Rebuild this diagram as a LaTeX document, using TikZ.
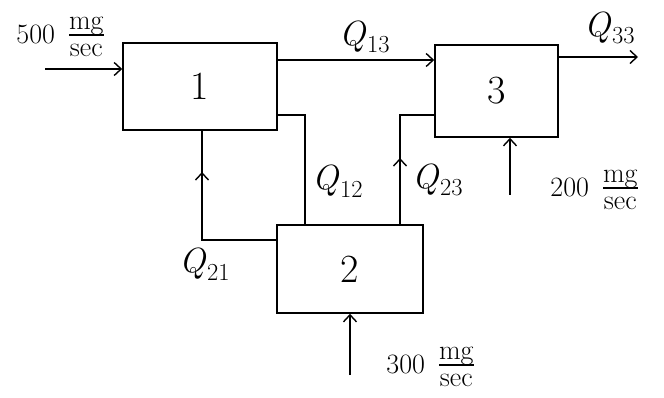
\documentclass[tikz,border=0pt]{standalone}
\usepackage{fontspec}
\usetikzlibrary{arrows.meta}
\setlength{\arrayrulewidth}{1.4pt}
\newcommand{\myfrac}[2]{\begin{tabular}{@{}c@{}}#1\\[-4pt]\hline\rule{0pt}{20pt}#2\end{tabular}}
\newcommand{\qlab}[1]{\textit{Q}\textsubscript{#1}}
\newcommand{\flowtxt}[1]{\fontsize{28}{30}\selectfont #1\enspace\myfrac{mg}{sec}}
\begin{document}
\begin{tikzpicture}[x=1pt,y=-1pt,line width=1.6pt,
  >={Straight Barb[length=7pt,width=13pt,line width=1.4pt]},
  blk/.style={draw,inner sep=0pt,font=\fontsize{40}{42}\selectfont},
  lbl/.style={inner sep=0pt,font=\fontsize{35}{37}\selectfont},
  flow/.style={inner sep=0pt}]
\useasboundingbox (0,0) rectangle (664,398);
% blocks
\node[blk,minimum width=154pt,minimum height=87pt] (b1) at (200,86.5) {1};
\node[blk,minimum width=123pt,minimum height=92pt] (b3) at (496.5,91) {3};
\node[blk,minimum width=146pt,minimum height=88pt] (b2) at (350,269) {2};
% helper coordinates
\coordinate (in1) at (45,69);
\coordinate (c13) at (0,60);
\coordinate (out3) at (638,57);
\coordinate (in3) at (510,195);
\coordinate (in2) at (350,375);
\coordinate (c12) at (305,115);
\coordinate (c23) at (400,115);
\coordinate (c21) at (202,240);
% connectors
\draw[->] (in1) -- (in1 -| b1.west);
\draw[->] (b1.east |- c13) -- (b3.west |- c13);
\draw[->] (b3.east |- out3) -- (out3);
\draw[->] (in3) -- (in3 |- b3.south);
\draw[->] (in2) -- (in2 |- b2.south);
\draw (b1.east |- c12) -- (c12) -- (c12 |- b2.north);
\draw (c23 |- b2.north) -- (c23) -- (c23 -| b3.west);
\draw[->] (c23 |- b2.north) -- (400,158);
\draw (b2.west |- c21) -- (c21) -- (c21 |- b1.south);
\draw[->] (c21) -- (202,172);
% labels
\node[flow] (l500) at (60,37) {\flowtxt{500}};
\node[flow] (l200) at (594,190) {\flowtxt{200}};
\node[flow] (l300) at (430,367) {\flowtxt{300}};
\node[lbl] (q13) at (365,37) {\qlab{13}};
\node[lbl] (q33) at (610,28) {\qlab{33}};
\node[lbl] (q12) at (338,181) {\qlab{12}};
\node[lbl] (q23) at (438,180) {\qlab{23}};
\node[lbl] (q21) at (205,264) {\qlab{21}};
\end{tikzpicture}
\end{document}
